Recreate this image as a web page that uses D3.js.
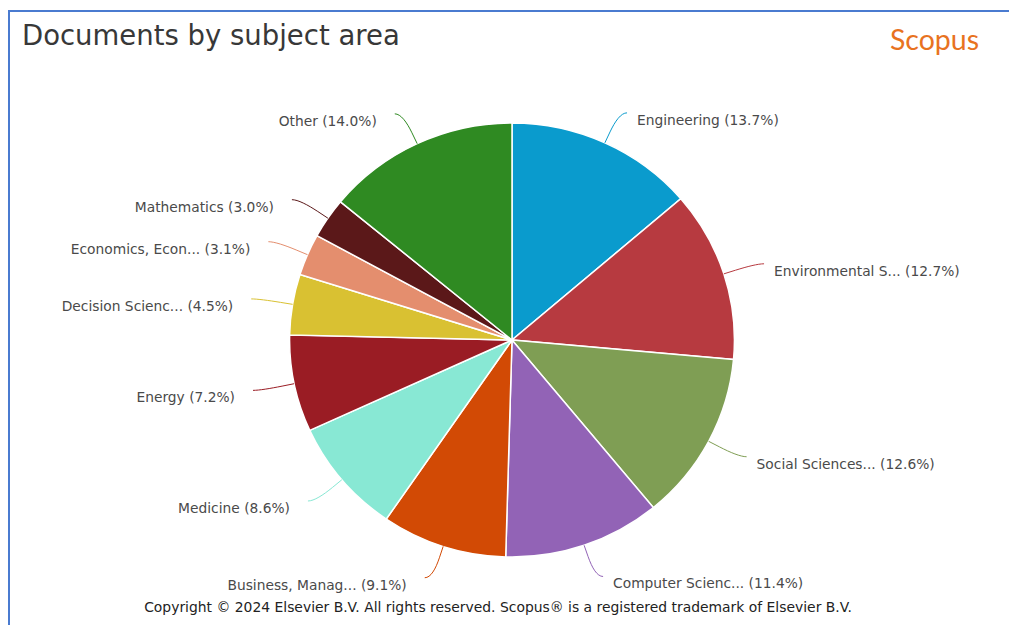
<!DOCTYPE html>
<html lang="en">
<head>
<meta charset="UTF-8">
<title>Documents by subject area</title>
<style>
  body { margin: 0; background: #fff; }
  svg { display: block; }
</style>
</head>
<body>
<svg id="chart"></svg>
<script src="https://d3js.org/d3.v7.min.js"></script>
<script>
// data (clockwise from 12 o'clock)
const subjects = ["Engineering", "Environmental S...", "Social Sciences...", "Computer Scienc...",
  "Business, Manag...", "Medicine", "Energy", "Decision Scienc...", "Economics, Econ...",
  "Mathematics", "Other"];
const shares = [13.7, 12.7, 12.6, 11.4, 9.1, 8.6, 7.2, 4.5, 3.1, 3.0, 14.0];
const colors = ["#0a9bcd", "#b73a40", "#7f9e54", "#9263b6", "#d24a05", "#88e8d4",
  "#9a1c24", "#d9c132", "#e48e6e", "#5b1819", "#2f8a22"];

const width = 1009, height = 625;
const cx = 512, cy = 340;
const r = 217, sx = 1.025;     // pie is a touch wider than tall in the picture
const labelR = 250;            // where the connectors end

const svg = d3.select("#chart")
  .attr("width", width)
  .attr("height", height)
  .attr("viewBox", [0, 0, width, height])
  .attr("font-family", "DejaVu Sans, sans-serif");

// frame
svg.append("path")
  .attr("d", `M9,${height} V11 H${width}`)
  .attr("fill", "none")
  .attr("stroke", "#4a7bd0")
  .attr("stroke-width", 2);

svg.append("text")
  .attr("x", 22).attr("y", 45)
  .attr("font-size", 27.5)
  .attr("fill", "#383838")
  .text("Documents by subject area");

svg.append("text")
  .attr("x", 979).attr("y", 50)
  .attr("text-anchor", "end")
  .attr("font-family", "Lato, sans-serif")
  .attr("font-size", 28.5)
  .attr("fill", "#e8731f")
  .text("Scopus");

const pie = d3.pie().sort(null).value(d => d);
const arcs = pie(shares);
const arc = d3.arc().innerRadius(0).outerRadius(r);

svg.append("g")
  .attr("transform", `translate(${cx},${cy}) scale(${sx},1)`)
  .selectAll("path")
  .data(arcs)
  .join("path")
  .attr("d", arc)
  .attr("fill", (d, i) => colors[i])
  .attr("stroke", "#fff")
  .attr("stroke-width", 1.5)
  .attr("vector-effect", "non-scaling-stroke");

// label geometry
const pt = (a, rad, pad = 0) => {
  const side = Math.sin(a) >= 0 ? 1 : -1;
  return [cx + Math.sin(a) * rad * sx + side * pad, cy - Math.cos(a) * rad];
};

const labels = arcs.map((d, i) => {
  const a = (d.startAngle + d.endAngle) / 2;
  const side = Math.sin(a) >= 0 ? 1 : -1;
  const edge = pt(a, r);
  const brk = pt(a, r + 12);
  const ctrl = pt(a, r + 24);
  const end = pt(a, labelR, 8);
  return { i, a, side, edge, brk, ctrl, end };
});

svg.append("g")
  .attr("fill", "none")
  .attr("stroke-width", 1)
  .selectAll("path")
  .data(labels)
  .join("path")
  .attr("stroke", d => colors[d.i])
  .attr("d", d => {
    const p = d3.path();
    p.moveTo(d.end[0], d.end[1]);
    p.bezierCurveTo(d.end[0] - d.side * 6, d.end[1], d.ctrl[0], d.ctrl[1], d.brk[0], d.brk[1]);
    p.lineTo(d.edge[0], d.edge[1]);
    return p.toString();
  });

svg.append("g")
  .attr("font-size", 13.8)
  .attr("fill", "#4a4a4a")
  .selectAll("text")
  .data(labels)
  .join("text")
  .attr("x", d => d.end[0] + (d.side > 0 ? 10 : -18))
  .attr("y", d => d.end[1] + 7)
  .attr("dy", "0.35em")
  .attr("text-anchor", d => d.side > 0 ? "start" : "end")
  .text(d => `${subjects[d.i]} (${shares[d.i].toFixed(1)}%)`);

svg.append("text")
  .attr("x", 498).attr("y", 612)
  .attr("text-anchor", "middle")
  .attr("font-size", 13.9)
  .attr("fill", "#222")
  .text("Copyright \u00a9 2024 Elsevier B.V. All rights reserved. Scopus\u00ae is a registered trademark of Elsevier B.V.");
</script>
</body>
</html>
